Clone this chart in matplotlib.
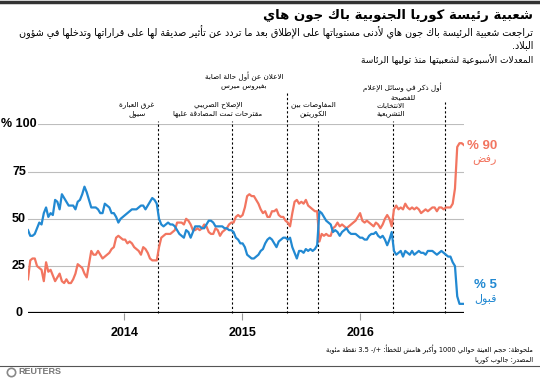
import re
import pandas as pd
import matplotlib
matplotlib.use('Agg')
import matplotlib.pyplot as plt
from matplotlib import rcParams

rcParams['font.family'] = ['Liberation Sans', 'DejaVu Sans']
rcParams['axes.unicode_minus'] = False

# weekly Gallup Korea ratings (%), first week of March 2013 -> Nov 2016
start_date = '2013-03-08'
approve = [
    44, 41, 41, 42, 45, 48, 47, 53, 56, 51, 53, 52, 60, 59, 55, 63, 61, 59, 57, 57,
    57, 55, 59, 60, 63, 67, 64, 60, 56, 56, 56, 55, 53, 53, 58, 57, 56, 53, 53, 51,
    48, 50, 51, 52, 53, 54, 55, 55, 55, 56, 57, 57, 55, 57, 59, 61, 60, 58, 50, 47,
    46, 47, 48, 47, 47, 46, 44, 42, 41, 40, 44, 43, 40, 43, 46, 46, 46, 45, 45, 47,
    49, 49, 48, 46, 46, 46, 46, 45, 45, 44, 44, 43, 40, 39, 37, 37, 35, 31, 30, 29,
    29, 30, 31, 33, 34, 37, 39, 40, 39, 37, 35, 38, 39, 40, 40, 39, 40, 35, 32, 29,
    33, 33, 32, 34, 33, 34, 33, 34, 36, 54, 53, 51, 49, 48, 47, 43, 44, 43, 41, 43,
    44, 45, 43, 42, 42, 42, 41, 40, 40, 39, 39, 41, 42, 42, 43, 41, 40, 41, 39, 36,
    39, 43, 33, 31, 32, 33, 30, 33, 32, 31, 33, 31, 32, 33, 32, 32, 31, 33, 33, 33,
    32, 31, 32, 33, 32, 31, 30, 30, 27, 25, 9, 5, 5, 5,
]
disapprove = [
    18, 28, 29, 29, 25, 24, 23, 17, 27, 22, 23, 20, 17, 19, 21, 17, 16, 18, 16, 16,
    18, 21, 26, 25, 24, 21, 19, 26, 33, 31, 31, 33, 31, 29, 30, 31, 32, 34, 35, 40,
    41, 40, 39, 39, 37, 38, 37, 35, 34, 33, 31, 35, 34, 32, 29, 28, 28, 28, 35, 40,
    41, 42, 42, 42, 43, 44, 48, 48, 48, 47, 50, 49, 47, 44, 44, 45, 44, 45, 47, 46,
    43, 42, 42, 45, 44, 41, 43, 44, 45, 47, 48, 48, 51, 52, 51, 52, 56, 62, 63, 62,
    62, 60, 58, 55, 53, 54, 51, 51, 54, 54, 55, 52, 51, 51, 49, 48, 46, 53, 59, 60,
    58, 59, 58, 60, 57, 56, 55, 54, 54, 38, 42, 41, 42, 41, 41, 45, 46, 48, 46, 47,
    46, 45, 46, 47, 48, 49, 51, 53, 49, 48, 49, 48, 47, 46, 48, 47, 45, 47, 50, 52,
    50, 46, 55, 57, 55, 56, 55, 58, 56, 55, 56, 55, 56, 55, 53, 54, 55, 54, 55, 56,
    56, 54, 56, 56, 55, 56, 56, 56, 58, 66, 88, 90, 90, 89,
]
years = ['2014-01-01', '2015-01-01', '2016-01-01']
year_labels = ['2014', '2015', '2016']

event_dates = ['2014-04-16', '2014-11-30', '2015-05-20', '2015-08-24', '2016-04-13', '2016-09-20']
event_labels = [
    'غرق العبارة\nسيول',
    'الإصلاح الضريبي\nمقترحات تمت المصادقة عليها',
    'الاعلان عن أول حالة اصابة\nبفيروس ميرس',
    'المفاوضات بين\nالكوريتين',
    'الانتخابات\nالتشريعية',
    'أول ذكر في وسائل الإعلام\nللفضيحة',
]

RED = '#f27560'
BLUE = '#2289d2'
AR_FONT = ['DejaVu Sans']

# --- minimal Arabic shaping (presentation forms) + visual reordering ---
DUAL = {'\u0626': 0xFE89, '\u0628': 0xFE8F, '\u062A': 0xFE95, '\u062B': 0xFE99,
        '\u062C': 0xFE9D, '\u062D': 0xFEA1, '\u062E': 0xFEA5, '\u0633': 0xFEB1,
        '\u0634': 0xFEB5, '\u0635': 0xFEB9, '\u0636': 0xFEBD, '\u0637': 0xFEC1,
        '\u0638': 0xFEC5, '\u0639': 0xFEC9, '\u063A': 0xFECD, '\u0641': 0xFED1,
        '\u0642': 0xFED5, '\u0643': 0xFED9, '\u0644': 0xFEDD, '\u0645': 0xFEE1,
        '\u0646': 0xFEE5, '\u0647': 0xFEE9, '\u064A': 0xFEF1}
RIGHT = {'\u0622': 0xFE81, '\u0623': 0xFE83, '\u0624': 0xFE85, '\u0625': 0xFE87,
         '\u0627': 0xFE8D, '\u0629': 0xFE93, '\u062F': 0xFEA9, '\u0630': 0xFEAB,
         '\u0631': 0xFEAD, '\u0632': 0xFEAF, '\u0648': 0xFEED, '\u0649': 0xFEEF}
LAM_ALEF = {'\u0622': 0xFEF5, '\u0623': 0xFEF7, '\u0625': 0xFEF9, '\u0627': 0xFEFB}


def shape(text):
    seq = []
    i = 0
    while i < len(text):
        c = text[i]
        if c == '\u0644' and i + 1 < len(text) and text[i + 1] in LAM_ALEF:
            seq.append(('LA', text[i + 1]))
            i += 2
        else:
            seq.append(('C', c))
            i += 1

    def joins_next(tok):
        return tok[0] == 'C' and tok[1] in DUAL

    def joins_prev(tok):
        return tok[0] == 'LA' or tok[1] in DUAL or tok[1] in RIGHT

    out = []
    for k, tok in enumerate(seq):
        p = k > 0 and joins_next(seq[k - 1]) and joins_prev(tok)
        q = k + 1 < len(seq) and joins_next(tok) and joins_prev(seq[k + 1])
        kind, c = tok
        if kind == 'LA':
            out.append(chr(LAM_ALEF[c] + (1 if p else 0)))
        elif c in DUAL:
            out.append(chr(DUAL[c] + (3 if p and q else 1 if p else 2 if q else 0)))
        elif c in RIGHT:
            out.append(chr(RIGHT[c] + (1 if p else 0)))
        elif c == '\u0621':
            out.append('\uFE80')
        else:
            out.append(c)
    return ''.join(out)


def ar(text):
    lines = []
    for line in text.split('\n'):
        rev = shape(line)[::-1]
        rev = re.sub(r'[0-9A-Za-z.]+', lambda m: m.group(0)[::-1], rev)
        lines.append(rev)
    return '\n'.join(lines)


W, H = 540, 378
fig = plt.figure(figsize=(W / 100, H / 100), dpi=100)


def fx(px):
    return px / W


def fy(py):
    return 1 - py / H


ax = fig.add_axes([fx(28), fy(313.3), fx(464) - fx(28), fy(124.3) - fy(313.3)])

dates = pd.date_range(start_date, periods=len(approve), freq='7D')
ax.plot(dates, disapprove, color=RED, lw=1.6, zorder=3)
ax.plot(dates, approve, color=BLUE, lw=1.6, zorder=3)

ax.set_xlim(dates[0], dates[-1])
ax.set_ylim(0, 100)
for s in ax.spines.values():
    s.set_visible(False)

for v in [25, 50, 75]:
    ax.axhline(v, color='#bdbdbd', lw=0.8, zorder=1)
ax.axhline(100, xmin=(38 - 28) / (464 - 28), color='#bdbdbd', lw=0.8, zorder=1)
ax.axhline(0, color='black', lw=1.6, zorder=4)

ax.set_yticks([])
for v, lab in zip([0, 25, 50, 75, 100], ['0', '25', '50', '75', '% 100']):
    fig.text(fx(19), fy(313.3 - v * 1.89), lab, ha='center', va='center',
             fontsize=9, fontweight='bold')

year_dt = pd.to_datetime(years)
ax.set_xticks(year_dt)
ax.set_xticklabels(year_labels, fontsize=9, fontweight='bold')
ax.tick_params(axis='x', length=5, width=0.8, color='#999999', pad=5, direction='out')

# label layout: (horizontal offset px from the line, alignment, text centre y px, line top y px)
label_layout = [
    (-4, 'right', 109.5, 121),
    (-14, 'center', 109.5, 121),
    (-4, 'right', 80.5, 92),
    (-5, 'center', 109.5, 121),
    (-3, 'center', 109.5, 121),
    (-3, 'right', 91.5, 102),
]
for d, lab, (dx, ha, ty, top) in zip(event_dates, event_labels, label_layout):
    d = pd.Timestamp(d)
    ax.plot([d, d], [0, (313.3 - top) / 1.89], color='black', lw=0.8, ls=(0, (2, 2)),
            clip_on=False, zorder=2)
    ax.annotate(ar(lab), xy=(d, (313.3 - ty) / 1.89), xytext=(dx * 0.72, 0),
                textcoords='offset points', ha=ha, va='center', multialignment='center',
                fontsize=5.2, linespacing=1.45, annotation_clip=False, family=AR_FONT)

fig.text(fx(497), fy(146), '% 90', color=RED, ha='right', va='center',
         fontsize=9.5, fontweight='bold')
fig.text(fx(497), fy(160), ar('رفض'), color=RED, ha='right', va='center', fontsize=8,
         family=AR_FONT)
fig.text(fx(497), fy(285), '% 5', color=BLUE, ha='right', va='center',
         fontsize=9.5, fontweight='bold')
fig.text(fx(497), fy(299), ar('قبول'), color=BLUE, ha='right', va='center', fontsize=8,
         family=AR_FONT)

# header
fig.add_artist(plt.Line2D([0, 1], [fy(2), fy(2)], color='#333333', lw=2.5))
fig.text(fx(533), fy(16), ar('شعبية رئيسة كوريا الجنوبية باك جون هاي'),
         ha='right', va='center', fontsize=9.5, fontweight='bold', family=AR_FONT)
fig.text(fx(533), fy(32), ar('تراجعت شعبية الرئيسة باك جون هاي لأدنى مستوياتها على الإطلاق '
                             'بعد ما تردد عن تأثير صديقة لها على قراراتها وتدخلها في شؤون'),
         ha='right', va='center', fontsize=6.9, family=AR_FONT)
fig.text(fx(533), fy(45), ar('البلاد.'), ha='right', va='center', fontsize=6.9,
         family=AR_FONT)
fig.text(fx(533), fy(60), ar('المعدلات الأسبوعية لشعبيتها منذ توليها الرئاسة'),
         ha='right', va='center', fontsize=6.5, family=AR_FONT)

# footer
fig.text(fx(533), fy(349), ar('ملحوظة: حجم العينة حوالي 1000 وأكبر هامش للخطأ: +/- 3.5 نقطة مئوية'),
         ha='right', va='center', fontsize=4.8, family=AR_FONT)
fig.text(fx(533), fy(360), ar('المصدر: جالوب كوريا'), ha='right', va='center',
         fontsize=4.8, family=AR_FONT)
fig.add_artist(plt.Line2D([0, 1], [fy(366), fy(366)], color='#555555', lw=0.8))
fig.add_artist(plt.Line2D([fx(11)], [fy(372)], marker='o', ms=6, mfc='none',
                          mec='#888888', mew=1.2))
fig.text(fx(18), fy(372), 'REUTERS', color='#777777', ha='left', va='center',
         fontsize=6.5, fontweight='bold')

fig.savefig('out.png', dpi=100)
